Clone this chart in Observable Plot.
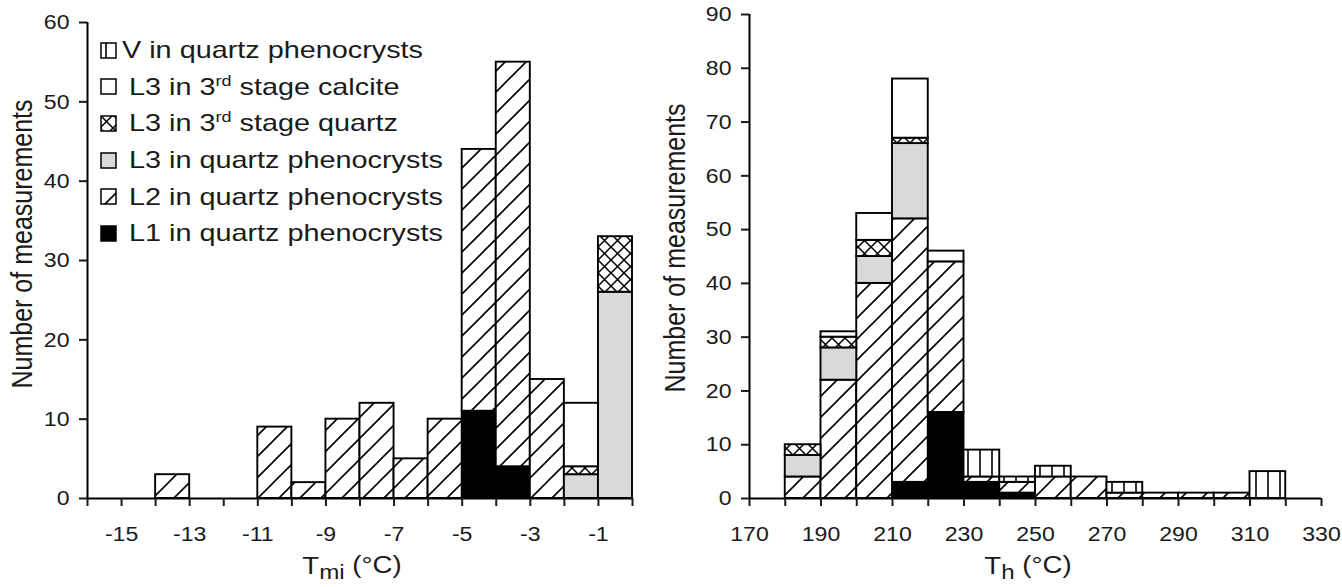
<!DOCTYPE html>
<html><head><meta charset="utf-8">
<script src="https://cdn.jsdelivr.net/npm/d3@7"></script>
<script src="https://cdn.jsdelivr.net/npm/@observablehq/plot@0.6"></script>
<style>
body{margin:0;background:#fff;}
#wrap{position:relative;width:1342px;height:587px;overflow:hidden;font-family:"Liberation Sans",Arial,sans-serif;color:#1a1a1a;background:#fff}
#left{position:absolute;left:0;top:0}
#right{position:absolute;left:650px;top:0}
#legend{position:absolute;left:100px;top:32px}
.row{height:36.6px;display:flex;align-items:center;white-space:nowrap}
.row svg{flex:none}
.lab{display:inline-block;font-size:24px;transform:scaleX(1.2);transform-origin:left center;margin-left:12px}
.lab sup{font-size:15px;vertical-align:9px;line-height:0}
</style></head>
<body>
<svg width="0" height="0" style="position:absolute">
<defs>
<pattern id="hatch" patternUnits="userSpaceOnUse" width="21" height="21">
<rect width="21" height="21" fill="#fff"/>
<path d="M-5,5 L5,-5 M0,21 L21,0 M16,26 L26,16" stroke="#000" stroke-width="1.6"/>
</pattern>
<pattern id="cross" patternUnits="userSpaceOnUse" width="13" height="13">
<rect width="13" height="13" fill="#fff"/>
<path d="M0,0 L13,13 M13,0 L0,13" stroke="#000" stroke-width="1.5"/>
</pattern>
<pattern id="vlines" patternUnits="userSpaceOnUse" width="12" height="12">
<rect width="12" height="12" fill="#fff"/>
<path d="M6,0 L6,12" stroke="#000" stroke-width="1.6"/>
</pattern>
</defs>
</svg>
<div id="wrap"><div id="left"></div><div id="right"></div><div id="legend"></div></div>
<script>
// ---- series (stack order bottom -> top)
const seriesNames = ["L1 in quartz phenocrysts", "L2 in quartz phenocrysts", "L3 in quartz phenocrysts",
  "L3 in 3rd stage quartz", "L3 in 3rd stage calcite", "V in quartz phenocrysts"];
const seriesFills = ["#000000", "url(#hatch)", "#d9d9d9", "url(#cross)", "#ffffff", "url(#vlines)"];

// ---- left panel: Tmi (°C), bins of 1 °C (bin start)
const tmiBinWidth = 1;
const tmiBins = [-14, -11, -10, -9, -8, -7, -6, -5, -4, -3, -2, -1];
const tmiL1   = [  0,   0,   0,  0,  0,  0,  0, 11,  4,  0,  0,  0];
const tmiL2   = [  3,   9,   2, 10, 12,  5, 10, 33, 51, 15,  0,  0];
const tmiL3q  = [  0,   0,   0,  0,  0,  0,  0,  0,  0,  0,  3, 26];
const tmiL3s  = [  0,   0,   0,  0,  0,  0,  0,  0,  0,  0,  1,  7];
const tmiL3c  = [  0,   0,   0,  0,  0,  0,  0,  0,  0,  0,  8,  0];
const tmiV    = [  0,   0,   0,  0,  0,  0,  0,  0,  0,  0,  0,  0];
const tmiTickLabels = [-15, -13, -11, -9, -7, -5, -3, -1];
const tmiYTicks = [0, 10, 20, 30, 40, 50, 60];

// ---- right panel: Th (°C), bins of 10 °C (bin start)
const thBinWidth = 10;
const thBins = [180, 190, 200, 210, 220, 230, 240, 250, 260, 270, 280, 290, 300, 310];
const thL1   = [  0,   0,   0,   3,  16,   3,   1,   0,   0,   0,   0,   0,   0,   0];
const thL2   = [  4,  22,  40,  49,  28,   1,   2,   4,   4,   1,   1,   1,   1,   0];
const thL3q  = [  4,   6,   5,  14,   0,   0,   0,   0,   0,   0,   0,   0,   0,   0];
const thL3s  = [  2,   2,   3,   1,   0,   0,   0,   0,   0,   0,   0,   0,   0,   0];
const thL3c  = [  0,   1,   5,  11,   2,   0,   0,   0,   0,   0,   0,   0,   0,   0];
const thV    = [  0,   0,   0,   0,   0,   5,   1,   2,   0,   2,   0,   0,   0,   5];
const thTickLabels = [170, 190, 210, 230, 250, 270, 290, 310, 330];
const thYTicks = [0, 10, 20, 30, 40, 50, 60, 70, 80, 90];

function stackRows(bins, w, arrays) {
  const rows = [];
  bins.forEach((b, i) => {
    let acc = 0;
    arrays.forEach((arr, k) => {
      const v = arr[i];
      if (v > 0) { rows.push({series: k, x1: b, x2: b + w, y1: acc, y2: acc + v}); acc += v; }
    });
  });
  return rows;
}

const baseStyle = {fontFamily: '"Liberation Sans", Arial, sans-serif', fontSize: "21px", color: "#1a1a1a", background: "transparent", overflow: "visible"};

function panel({rows, xDomain, yDomain, yTicks, xTicksAll, xTickLabels, width, marginLeft, marginRight, marginTop}) {
  return Plot.plot({
    width, height: 587, marginLeft, marginRight, marginTop, marginBottom: 89,
    x: {domain: xDomain, axis: null},
    y: {domain: yDomain, axis: null},
    style: baseStyle,
    marks: [
      ...seriesNames.map((n, k) => Plot.rect(rows.filter(r => r.series === k),
        {x1: "x1", x2: "x2", y1: "y1", y2: "y2", fill: seriesFills[k], stroke: "#000", strokeWidth: 1.9})),
      Plot.ruleY([yDomain[0]], {stroke: "#000", strokeWidth: 2}),
      Plot.ruleX([xDomain[0]], {stroke: "#000", strokeWidth: 2}),
      Plot.axisY({ticks: yTicks, tickSize: 8, tickPadding: 10, label: null, strokeWidth: 2, tickFormat: d => String(d)}),
      Plot.axisX({ticks: xTicksAll, tickSize: 8, label: null, strokeWidth: 2, tickFormat: () => ""}),
      Plot.axisX({ticks: xTickLabels, tickSize: 0, tickPadding: 28, label: null, tickFormat: d => String(d)})
    ]
  });
}

function stretch(svg, f) {
  svg.querySelectorAll("text").forEach(t => {
    const tr = t.getAttribute("transform") || "";
    t.setAttribute("transform", tr + ` scale(${f},1)`);
  });
}

function addTitles(svg, yLabelPos, xTitle) {
  const s = d3.select(svg);
  s.append("text")
    .attr("transform", `translate(${yLabelPos[0]},${yLabelPos[1]}) rotate(-90) scale(1,1.15)`)
    .attr("text-anchor", "middle").attr("dy", "0.35em")
    .attr("font-size", 25).attr("fill", "#1a1a1a")
    .text("Number of measurements");
  const t = s.append("text")
    .attr("transform", `translate(${xTitle.x},${xTitle.y}) scale(1.15,1)`)
    .attr("text-anchor", "middle").attr("font-size", 24).attr("fill", "#1a1a1a");
  t.append("tspan").text("T");
  t.append("tspan").attr("dy", "0.25em").attr("font-size", 21).text(xTitle.sub);
  t.append("tspan").attr("dy", "-0.25em").text(" (°C)");
}

// left
const leftRows = stackRows(tmiBins, tmiBinWidth, [tmiL1, tmiL2, tmiL3q, tmiL3s, tmiL3c, tmiV]);
const leftPlot = panel({rows: leftRows, xDomain: [-16, 0], yDomain: [0, 60], yTicks: tmiYTicks,
  xTicksAll: d3.range(-16, 1, 1), xTickLabels: tmiTickLabels, width: 650, marginLeft: 87, marginRight: 18, marginTop: 22});
stretch(leftPlot, 1.1);
addTitles(leftPlot, [22, 244], {x: 352, y: 574, sub: "mi"});
document.getElementById("left").appendChild(leftPlot);

// right
const rightRows = stackRows(thBins, thBinWidth, [thL1, thL2, thL3q, thL3s, thL3c, thV]);
const rightPlot = panel({rows: rightRows, xDomain: [170, 330], yDomain: [0, 90], yTicks: thYTicks,
  xTicksAll: d3.range(170, 331, 10), xTickLabels: thTickLabels, width: 692, marginLeft: 99, marginRight: 21, marginTop: 14});
stretch(rightPlot, 1.1);
addTitles(rightPlot, [25, 248], {x: 378, y: 574, sub: "h"});
document.getElementById("right").appendChild(rightPlot);

// legend (top entry first)
const legendOrder = [5, 4, 3, 2, 1, 0];
const legend = d3.select("#legend");
legendOrder.forEach((k, i) => {
  const row = legend.append("div").attr("class", "row");
  const sw = row.append("svg").attr("width", 17).attr("height", 17);
  sw.append("rect").attr("x", 1).attr("y", 1).attr("width", 15).attr("height", 15)
    .attr("fill", seriesFills[k]).attr("stroke", "#000").attr("stroke-width", 1.5);
  const lab = row.append("span").attr("class", "lab");
  if (k === 5) lab.style("margin-left", "5px");
  const name = seriesNames[k];
  if (name.includes("3rd")) {
    const [a, b] = name.split("3rd");
    lab.html(`${a}3<sup>rd</sup>${b}`);
  } else lab.text(name);
});
</script>
</body></html>
